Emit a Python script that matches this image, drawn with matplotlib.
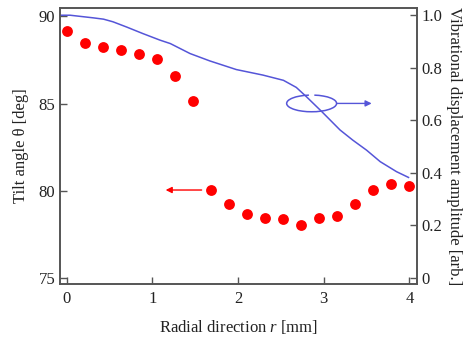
import matplotlib
matplotlib.use("Agg")
import matplotlib.pyplot as plt
from matplotlib.patches import Arc

plt.rcParams['font.family'] = ['Liberation Serif', 'DejaVu Serif']
plt.rcParams['mathtext.fontset'] = 'custom'
plt.rcParams['mathtext.it'] = 'Liberation Serif:italic'
plt.rcParams['mathtext.rm'] = 'Liberation Serif'

# Tilt angle data (left axis)
r_tilt = [0.0, 0.21, 0.42, 0.63, 0.84, 1.05, 1.26, 1.47, 1.68, 1.89,
          2.10, 2.31, 2.52, 2.73, 2.94, 3.15, 3.36, 3.57, 3.78, 3.99]
tilt = [89.14, 88.44, 88.25, 88.06, 87.85, 87.56, 86.55, 85.16, 80.05, 79.27,
        78.68, 78.47, 78.38, 78.07, 78.47, 78.56, 79.27, 80.07, 80.38, 80.26]

# Vibrational displacement amplitude (right axis)
r_vib = [-0.078, 0.04, 0.31, 0.43, 0.54, 0.70, 0.89, 1.09, 1.21, 1.44, 1.67,
         1.98, 2.29, 2.53, 2.68, 2.80, 2.98, 3.19, 3.34, 3.50, 3.66, 3.85, 3.99]
vib = [1.0, 1.0, 0.990, 0.985, 0.975, 0.955, 0.930, 0.905, 0.892, 0.854, 0.826,
       0.793, 0.772, 0.752, 0.725, 0.689, 0.632, 0.563, 0.524, 0.486, 0.442, 0.404, 0.382]

x_ticks = [0, 1, 2, 3, 4]
left_ticks = [75, 80, 85, 90]
right_ticks = [0, 0.2, 0.4, 0.6, 0.8, 1.0]
right_ticklabels = ['0', '0.2', '0.4', '0.6', '0.8', '1.0']

RED = '#ff0000'
BLUE = '#5555d8'
SPINE = '#555555'
TXT = '#222222'
FS = 12

fig = plt.figure(figsize=(4.75, 3.39), dpi=100)
ax = fig.add_axes([0.1263, 0.1622, 0.877 - 0.1263, 0.976 - 0.1622])
ax2 = ax.twinx()

ax.plot(r_tilt, tilt, 'o', color=RED, markersize=7.8, markeredgewidth=0, zorder=3)
ax2.plot(r_vib, vib, '-', color=BLUE, linewidth=1.1)

ax.set_xlim(-0.078, 4.084)
ax.set_ylim(74.67, 90.46)
ax2.set_ylim(-0.024, 1.027)

ax.set_xticks(x_ticks)
ax.set_yticks(left_ticks)
ax2.set_yticks(right_ticks)
ax2.set_yticklabels(right_ticklabels)

for a in (ax, ax2):
    for s in a.spines.values():
        s.set_color(SPINE)
        s.set_linewidth(1.2)
    a.tick_params(direction='in', length=5, width=1.0, color=SPINE,
                  labelsize=FS, labelcolor=TXT, pad=3.5)
ax.tick_params(axis='x', pad=5)
ax.tick_params(axis='y', right=False)
ax2.tick_params(axis='y', left=False)

ax.set_xlabel('Radial direction $r$ [mm]', fontsize=FS, color=TXT, labelpad=8)
ax.set_ylabel('Tilt angle θ [deg]', fontsize=FS, color=TXT, labelpad=7)
ax2.set_ylabel('Vibrational displacement amplitude [arb.]', fontsize=FS,
               color=TXT, rotation=270, labelpad=14)

# Red arrow pointing left (to left axis)
ax.annotate('', xy=(1.155, 80.05), xytext=(1.575, 80.05),
            arrowprops=dict(arrowstyle='-|>', color=RED, lw=1.0,
                            mutation_scale=9, shrinkA=0, shrinkB=0))

# Blue rotation ellipse + arrow pointing right (to right axis)
arc = Arc((2.859, 0.664), 0.583, 0.0635, theta1=135, theta2=405,
          color=BLUE, lw=1.1)
ax2.add_patch(arc)
ax2.annotate('', xy=(3.56, 0.664), xytext=(3.15, 0.664),
             arrowprops=dict(arrowstyle='-|>', color=BLUE, lw=1.0,
                             mutation_scale=9, shrinkA=0, shrinkB=0))

fig.savefig('out.png', dpi=100)
